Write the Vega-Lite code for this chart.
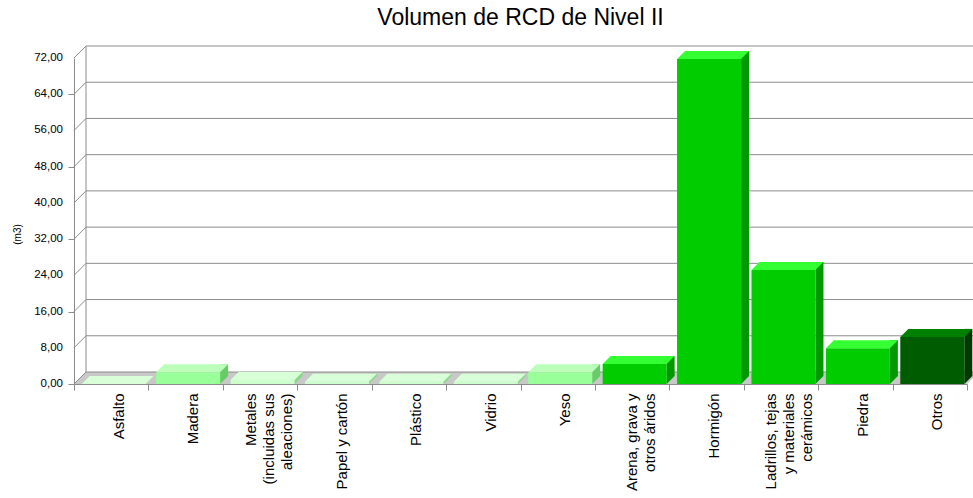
{
  "$schema": "https://vega.github.io/schema/vega-lite/v6.json",
  "width": 893,
  "height": 326,
  "autosize": {"type": "none"},
  "padding": {"left": 74, "top": 58, "right": 6, "bottom": 114},
  "background": "#ffffff",
  "title": {
    "text": "Volumen de RCD de Nivel II",
    "font": "Liberation Sans",
    "fontSize": 23,
    "fontWeight": "normal",
    "color": "#000000",
    "anchor": "middle",
    "offset": 14
  },
  "datasets": {
    "residuos": [
      {"residuo": "Asfalto", "m3": 0},
      {"residuo": "Madera", "m3": 2.6},
      {"residuo": "Metales\n(incluidas sus\naleaciones)", "m3": 0.9},
      {"residuo": "Papel y cartón", "m3": 0.5},
      {"residuo": "Plástico", "m3": 0.5},
      {"residuo": "Vidrio", "m3": 0.5},
      {"residuo": "Yeso", "m3": 2.6},
      {"residuo": "Arena, grava y\notros áridos", "m3": 4.4},
      {"residuo": "Hormigón", "m3": 71.8},
      {"residuo": "Ladrillos, tejas\ny materiales\ncerámicos", "m3": 25.2},
      {"residuo": "Piedra", "m3": 7.9},
      {"residuo": "Otros", "m3": 10.4}
    ],
    "rejilla": [
      {"m3": 0}, {"m3": 8}, {"m3": 16}, {"m3": 24}, {"m3": 32},
      {"m3": 40}, {"m3": 48}, {"m3": 56}, {"m3": 64}, {"m3": 72}
    ]
  },
  "layer": [
    {
      "description": "axes only",
      "data": {"name": "residuos"},
      "mark": {"type": "bar", "opacity": 0},
      "encoding": {
        "x": {
          "field": "residuo",
          "type": "nominal",
          "sort": null,
          "scale": {"paddingInner": 0, "paddingOuter": 0},
          "axis": {
            "title": null,
            "labelAngle": -90,
            "labelAlign": "right",
            "labelBaseline": "middle",
            "labelExpr": "split(datum.label, '\\n')",
            "labelOffset": {
              "condition": [
                {"test": "length(split(datum.value, '\\n')) == 3", "value": -10},
                {"test": "length(split(datum.value, '\\n')) == 2", "value": -1}
              ],
              "value": 7
            },
            "labelPadding": 3,
            "labelFontSize": 15,
            "labelLineHeight": 18,
            "labelLimit": 200,
            "tickBand": "extent"
          }
        },
        "y": {
          "field": "m3",
          "type": "quantitative",
          "scale": {"domain": [0, 72], "nice": false},
          "axis": {
            "title": "(m3)",
            "values": [0, 8, 16, 24, 32, 40, 48, 56, 64, 72],
            "labels": false,
            "titleFontSize": 10,
            "titleFontWeight": "normal",
            "titleAlign": "center",
            "titleBaseline": "middle",
            "titleX": -57,
            "titleY": 176
          }
        }
      }
    },
    {
      "description": "value labels of the vertical axis",
      "data": {"name": "rejilla"},
      "mark": {"type": "text", "align": "right", "baseline": "middle", "dx": -11, "fontSize": 11.5, "color": "#000000", "font": "Liberation Sans"},
      "encoding": {
        "x": {"datum": "Asfalto", "type": "nominal", "bandPosition": 0},
        "y": {"field": "m3", "type": "quantitative"},
        "text": {"field": "m3", "type": "quantitative", "format": ".2f"}
      }
    },
    {
      "description": "floor of the 3D box",
      "data": {"name": "rejilla"},
      "transform": [{"filter": "datum.m3 == 0"}],
      "mark": {"type": "point", "shape": "M0,0L74.4167,0L75.4167,-1L1,-1Z", "size": 576, "filled": true, "color": "#c8c8c8", "strokeWidth": 0, "opacity": 1},
      "encoding": {
        "x": {"datum": "Asfalto", "type": "nominal", "bandPosition": 0},
        "y": {"field": "m3", "type": "quantitative"}
      }
    },
    {
      "description": "gridlines: diagonal on the left wall, then across the back wall",
      "data": {"name": "rejilla"},
      "mark": {"type": "point", "shape": "M0,0L1,-1L75.4167,-1", "size": 576, "filled": false, "stroke": "#8c8c8c", "strokeWidth": 1, "opacity": 1},
      "encoding": {
        "x": {"datum": "Asfalto", "type": "nominal", "bandPosition": 0},
        "y": {"field": "m3", "type": "quantitative"}
      }
    },
    {
      "description": "edge where the left wall meets the back wall",
      "data": {"name": "rejilla"},
      "transform": [{"filter": "datum.m3 == 0"}],
      "mark": {"type": "point", "shape": "M1,-1L1,-28.1667", "size": 576, "filled": false, "stroke": "#8c8c8c", "strokeWidth": 1, "opacity": 1},
      "encoding": {
        "x": {"datum": "Asfalto", "type": "nominal", "bandPosition": 0},
        "y": {"field": "m3", "type": "quantitative"}
      }
    },
    {
      "description": "right side faces of the bars",
      "data": {"name": "residuos"},
      "mark": {"type": "bar", "width": 8, "xOffset": 38.5, "yOffset": -8, "y2Offset": -8},
      "encoding": {
        "x": {"field": "residuo", "type": "nominal", "sort": null},
        "y": {"field": "m3", "type": "quantitative"},
        "y2": {"datum": 0},
        "color": {
          "condition": [
            {"test": "datum.residuo == 'Otros'", "value": "#003a00"},
            {"test": "datum.m3 >= 4", "value": "#009a00"},
            {"test": "datum.m3 >= 1", "value": "#66cc66"}
          ],
          "value": "#88d888"
        }
      }
    },
    {
      "description": "lower corner of each side face",
      "data": {"name": "residuos"},
      "mark": {"type": "point", "shape": "M1,0L1,-0.25L1.25,-0.25Z", "size": 4096, "filled": true, "opacity": 1, "strokeWidth": 0, "xOffset": 2.5},
      "encoding": {
        "x": {"field": "residuo", "type": "nominal", "sort": null},
        "y": {"datum": 0, "type": "quantitative"},
        "color": {
          "condition": [
            {"test": "datum.residuo == 'Otros'", "value": "#003a00"},
            {"test": "datum.m3 >= 4", "value": "#009a00"},
            {"test": "datum.m3 >= 1", "value": "#66cc66"}
          ],
          "value": "#88d888"
        }
      }
    },
    {
      "description": "front faces of the bars",
      "data": {"name": "residuos"},
      "mark": {"type": "bar", "width": {"band": 0.86}, "xOffset": 2.5},
      "encoding": {
        "x": {"field": "residuo", "type": "nominal", "sort": null},
        "y": {"field": "m3", "type": "quantitative"},
        "color": {
          "condition": [
            {"test": "datum.residuo == 'Otros'", "value": "#005c00"},
            {"test": "datum.m3 >= 4", "value": "#00cc00"},
            {"test": "datum.m3 >= 1", "value": "#99ff99"}
          ],
          "value": "#ccffcc"
        }
      }
    },
    {
      "description": "top faces of the bars",
      "data": {"name": "residuos"},
      "mark": {"type": "point", "shape": "M-1,0L1,0L1.25,-0.25L-0.75,-0.25Z", "size": 4096, "filled": true, "opacity": 1, "strokeWidth": 0, "xOffset": 2.5},
      "encoding": {
        "x": {"field": "residuo", "type": "nominal", "sort": null},
        "y": {"field": "m3", "type": "quantitative"},
        "color": {
          "condition": [
            {"test": "datum.residuo == 'Otros'", "value": "#008000"},
            {"test": "datum.m3 >= 4", "value": "#33ff33"},
            {"test": "datum.m3 >= 1", "value": "#bbffbb"}
          ],
          "value": "#d9ffd9"
        }
      }
    }
  ],
  "config": {
    "locale": {
      "number": {"decimal": ",", "thousands": ".", "grouping": [3], "currency": ["", " €"]}
    },
    "view": {"stroke": null},
    "font": "Liberation Sans",
    "axis": {
      "grid": false,
      "domainColor": "#8c8c8c",
      "tickColor": "#8c8c8c",
      "tickSize": 6,
      "labelColor": "#000000",
      "titleColor": "#000000",
      "labelFont": "Liberation Sans",
      "titleFont": "Liberation Sans"
    }
  }
}
